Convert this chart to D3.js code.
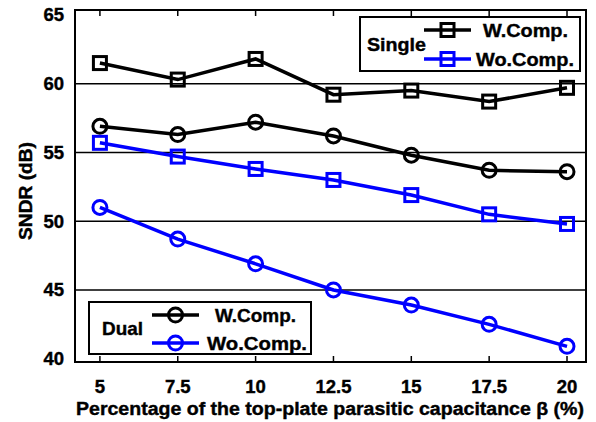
<!DOCTYPE html>
<html>
<head>
<meta charset="utf-8">
<script src="https://cdn.jsdelivr.net/npm/d3@7"></script>
<style>
  body { margin: 0; background: #fff; }
  svg { display: block; font-family: "Liberation Sans", Arial, sans-serif; font-weight: bold; }
  svg text { stroke: #000; stroke-width: 0.4px; }
</style>
</head>
<body>
<svg id="chart" width="596" height="422"></svg>
<script>
// chart data
const beta = [5, 7.5, 10, 12.5, 15, 17.5, 20];
const xTicks = ['5', '7.5', '10', '12.5', '15', '17.5', '20'];
const yTicks = [40, 45, 50, 55, 60, 65];
const gridValues = [45, 50, 55, 60];
const singleWComp = [61.5, 60.3, 61.8, 59.2, 59.5, 58.7, 59.7];
const singleWoComp = [55.7, 54.7, 53.8, 53.0, 51.9, 50.5, 49.8];
const dualWComp = [56.9, 56.3, 57.2, 56.2, 54.8, 53.7, 53.6];
const dualWoComp = [51.0, 48.7, 46.9, 45.0, 43.9, 42.5, 40.9];

const svg = d3.select('#chart');
const plotL = 75, plotR = 586, plotT = 10, plotB = 362;

const x = d3.scaleLinear().domain([4.2, 20.61]).range([plotL, plotR]);
const y = d3.scaleLinear().domain([39.76, 65.36]).range([plotB, plotT]);

// gridlines
svg.append('g').selectAll('line').data(gridValues).join('line')
  .attr('x1', plotL).attr('x2', plotR)
  .attr('y1', d => y(d)).attr('y2', d => y(d))
  .attr('stroke', '#000').attr('stroke-width', 1.5);

// top/bottom inward ticks
const tickG = svg.append('g').attr('stroke', '#000').attr('stroke-width', 1.5);
tickG.selectAll('.tb').data(beta).join('line').attr('class', 'tb')
  .attr('x1', d => x(d)).attr('x2', d => x(d))
  .attr('y1', plotB).attr('y2', plotB - 6);
tickG.selectAll('.tt').data(beta).join('line').attr('class', 'tt')
  .attr('x1', d => x(d)).attr('x2', d => x(d))
  .attr('y1', plotT).attr('y2', plotT + 6);

// tick labels
svg.append('g').selectAll('text').data(beta).join('text')
  .attr('x', d => x(d)).attr('y', 393)
  .attr('text-anchor', 'middle').attr('font-size', 18.5)
  .text((d, i) => xTicks[i]);
svg.append('g').selectAll('text').data(yTicks).join('text')
  .attr('x', 64).attr('y', d => y(d) + 6.5)
  .attr('text-anchor', 'end').attr('font-size', 18.5)
  .text(d => d);

// axis titles
svg.append('text').attr('x', 330).attr('y', 415)
  .attr('text-anchor', 'middle').attr('font-size', 18)
  .attr('textLength', 508).attr('lengthAdjust', 'spacingAndGlyphs')
  .text('Percentage of the top-plate parasitic capacitance \u03b2 (%)');
svg.append('text').attr('transform', 'translate(32,191) rotate(-90)')
  .attr('text-anchor', 'middle').attr('font-size', 18)
  .attr('textLength', 98).attr('lengthAdjust', 'spacingAndGlyphs')
  .text('SNDR (dB)');

// series
const series = [
  { vals: singleWComp, color: '#000', shape: 'square' },
  { vals: dualWComp, color: '#000', shape: 'circle' },
  { vals: singleWoComp, color: '#0000ff', shape: 'square' },
  { vals: dualWoComp, color: '#0000ff', shape: 'circle' }
];
const line = d3.line().x((d, i) => x(beta[i])).y(d => y(d));

function marker(g, shape, color) {
  if (shape === 'square') {
    g.append('rect').attr('x', -6.5).attr('y', -6.5).attr('width', 13).attr('height', 13)
      .attr('fill', 'none').attr('stroke', color).attr('stroke-width', 3);
  } else {
    g.append('circle').attr('r', 7)
      .attr('fill', 'none').attr('stroke', color).attr('stroke-width', 3);
  }
}

series.forEach(s => {
  svg.append('path').datum(s.vals).attr('d', line)
    .attr('fill', 'none').attr('stroke', s.color).attr('stroke-width', 3.5);
  s.vals.forEach((v, i) => {
    const g = svg.append('g').attr('transform', `translate(${x(beta[i])},${y(v)})`);
    marker(g, s.shape, s.color);
  });
});

// frame
svg.append('rect').attr('x', plotL).attr('y', plotT)
  .attr('width', plotR - plotL).attr('height', plotB - plotT)
  .attr('fill', 'none').attr('stroke', '#000').attr('stroke-width', 2);

// legends
function legend(box, title, entries) {
  const g = svg.append('g');
  g.append('rect').attr('x', box[0]).attr('y', box[1]).attr('width', box[2]).attr('height', box[3])
    .attr('fill', '#fff').attr('stroke', '#000').attr('stroke-width', 2);
  g.append('text').attr('x', title.x).attr('y', box[1] + box[3] / 2 + 7)
    .attr('font-size', 19).attr('textLength', title.w).attr('lengthAdjust', 'spacingAndGlyphs')
    .text(title.text);
  entries.forEach(e => {
    g.append('line').attr('x1', e.x1).attr('x2', e.x2).attr('y1', e.y).attr('y2', e.y)
      .attr('stroke', e.color).attr('stroke-width', 3.5);
    const m = g.append('g').attr('transform', `translate(${(e.x1 + e.x2) / 2},${e.y})`);
    marker(m, e.shape, e.color);
    g.append('text').attr('x', e.tx).attr('y', e.y + 7).attr('font-size', 19)
      .attr('textLength', e.tw).attr('lengthAdjust', 'spacingAndGlyphs').text(e.label);
  });
}

legend([360, 17, 220, 54], { text: 'Single', x: 367, w: 59 }, [
  { x1: 424, x2: 471, y: 30, color: '#000', shape: 'square', label: 'W.Comp.', tx: 483, tw: 85 },
  { x1: 424, x2: 471, y: 59, color: '#0000ff', shape: 'square', label: 'Wo.Comp.', tx: 476, tw: 98 }
]);
legend([89, 302, 222, 52], { text: 'Dual', x: 102, w: 41 }, [
  { x1: 152, x2: 199, y: 315, color: '#000', shape: 'circle', label: 'W.Comp.', tx: 215, tw: 81 },
  { x1: 152, x2: 199, y: 343, color: '#0000ff', shape: 'circle', label: 'Wo.Comp.', tx: 207, tw: 100 }
]);
</script>
</body>
</html>
